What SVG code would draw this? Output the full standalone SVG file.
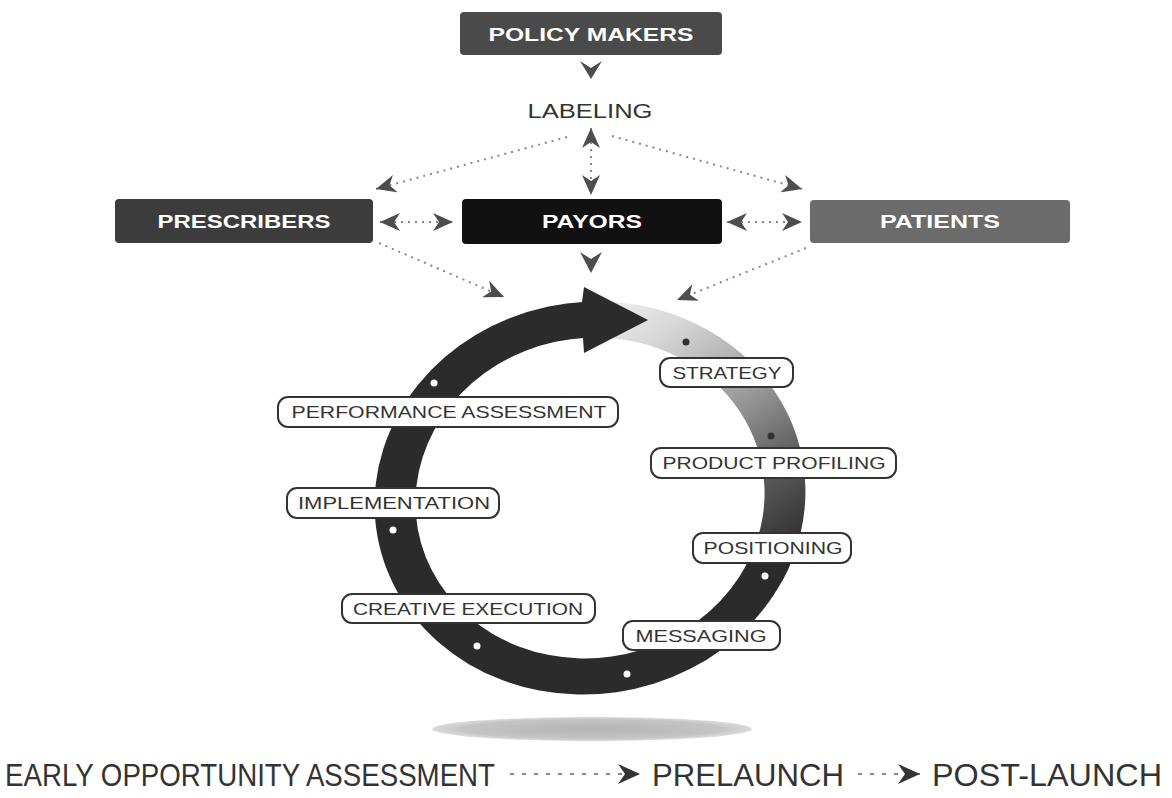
<svg xmlns="http://www.w3.org/2000/svg" width="1172" height="798" viewBox="0 0 1172 798">
  <defs>
    <style>
      .box-text { font-family: "Liberation Sans", Arial, sans-serif; font-weight: bold; font-size: 19px; fill: #ffffff; text-anchor: middle; }
      .lbl-rect { fill: #ffffff; stroke: #333333; stroke-width: 2; }
      .lbl-text { font-family: "Liberation Sans", Arial, sans-serif; font-size: 17px; fill: #333333; text-anchor: middle; }
      .dotline { stroke: #888888; stroke-width: 2; stroke-dasharray: 2 5; fill: none; }
      .dotline-b { stroke: #888888; stroke-width: 2; stroke-dasharray: 4 8; fill: none; }
      .chev { fill: #4d4d4d; }
      .bottom-text { font-family: "Liberation Sans", Arial, sans-serif; font-size: 31px; fill: #333333; }
      .ring-dark { fill: #2b2b2b; }
      .dot-w { fill: #ffffff; }
      .dot-d { fill: #333333; }
    </style>
    <marker id="arrow" viewBox="0 0 20 18" refX="20" refY="9" markerWidth="20" markerHeight="18" markerUnits="userSpaceOnUse" orient="auto-start-reverse">
      <path d="M0,0 L20,9 L0,18 L6,9 Z" fill="#4d4d4d"/>
    </marker>
    <marker id="arrowB" viewBox="0 0 22 20" refX="22" refY="10" markerWidth="22" markerHeight="20" markerUnits="userSpaceOnUse" orient="auto">
      <path d="M0,0 L22,10 L0,20 L7,10 Z" fill="#333333"/>
    </marker>
    <linearGradient id="fade" gradientUnits="userSpaceOnUse" x1="40" y1="-190" x2="175" y2="100">
      <stop offset="0" stop-color="#f0f0f0"/>
      <stop offset="0.2" stop-color="#d6d6d6"/>
      <stop offset="0.5" stop-color="#9a9a9a"/>
      <stop offset="0.75" stop-color="#5a5a5a"/>
      <stop offset="1" stop-color="#2b2b2b"/>
    </linearGradient>
    <radialGradient id="shadow" cx="0.5" cy="0.5" r="0.5">
      <stop offset="0" stop-color="#b4b4b4"/>
      <stop offset="0.8" stop-color="#c4c4c4"/>
      <stop offset="1" stop-color="#dcdcdc"/>
    </radialGradient>
  </defs>

  <rect x="0" y="0" width="1172" height="798" fill="#ffffff"/>

  <!-- cycle ring -->
  <g id="cycle">
    <ellipse cx="592" cy="729" rx="160" ry="12" fill="url(#shadow)"/>
    <g transform="translate(590 498) rotate(-10)">
      <path d="M 37.5 -193.02 A 216 196 0 0 1 174.74 115.21 L 141.58 94.05 A 175 160 0 0 0 30.38 -157.57 Z" fill="url(#fade)"/>
      <path class="ring-dark" d="M 187.06 98 A 216 196 0 1 1 30.07 -194.10 L 24.36 -158.45 A 175 160 0 1 0 151.55 80 Z"/>
    </g>
    <polygon class="ring-dark" points="582,302 584,287 648,320 584,353 583,338"/>
    <circle class="dot-w" cx="434" cy="383" r="3.5"/>
    <circle class="dot-w" cx="393" cy="530" r="3.5"/>
    <circle class="dot-w" cx="477" cy="646" r="3.5"/>
    <circle class="dot-w" cx="627" cy="674" r="3.5"/>
    <circle class="dot-w" cx="765" cy="576" r="3.5"/>
    <circle class="dot-d" cx="686" cy="342" r="3.5"/>
    <circle class="dot-d" cx="771" cy="436" r="3.5"/>
  </g>

  <!-- connectors -->
  <g id="connectors">
    <polygon class="chev" points="580,61 591,68 602,61 591,79"/>
    <line class="dotline" x1="591" y1="128" x2="591" y2="195" marker-start="url(#arrow)" marker-end="url(#arrow)"/>
    <line class="dotline" x1="567" y1="137" x2="376" y2="189" marker-end="url(#arrow)"/>
    <line class="dotline" x1="612" y1="136" x2="802" y2="189" marker-end="url(#arrow)"/>
    <line class="dotline" x1="380" y1="222" x2="453" y2="222" marker-start="url(#arrow)" marker-end="url(#arrow)"/>
    <line class="dotline" x1="727" y1="222" x2="802" y2="222" marker-start="url(#arrow)" marker-end="url(#arrow)"/>
    <polygon class="chev" points="580,252 591,259 602,252 591,273"/>
    <line class="dotline" x1="379" y1="243" x2="504" y2="297" marker-end="url(#arrow)"/>
    <line class="dotline" x1="806" y1="248" x2="677" y2="300" marker-end="url(#arrow)"/>
  </g>

  <!-- top nodes -->
  <g id="policy-makers">
    <rect x="460" y="12" width="262" height="43" rx="4" fill="#4a4a4a"/>
    <text class="box-text" x="591" y="41" textLength="205" lengthAdjust="spacingAndGlyphs">POLICY MAKERS</text>
  </g>
  <g id="labeling">
    <text x="590" y="118" font-family="Liberation Sans, Arial, sans-serif" font-size="20" fill="#333333" text-anchor="middle" textLength="125" lengthAdjust="spacingAndGlyphs">LABELING</text>
  </g>
  <g id="prescribers">
    <rect x="115" y="199" width="258" height="44" rx="4" fill="#3c3c3c"/>
    <text class="box-text" x="244" y="228" textLength="173" lengthAdjust="spacingAndGlyphs">PRESCRIBERS</text>
  </g>
  <g id="payors">
    <rect x="462" y="199" width="260" height="45" rx="4" fill="#111111"/>
    <text class="box-text" x="592" y="228" textLength="100" lengthAdjust="spacingAndGlyphs">PAYORS</text>
  </g>
  <g id="patients">
    <rect x="810" y="200" width="260" height="43" rx="4" fill="#6b6b6b"/>
    <text class="box-text" x="940" y="228" textLength="120" lengthAdjust="spacingAndGlyphs">PATIENTS</text>
  </g>

  <!-- cycle stage labels -->
  <g id="strategy">
    <rect class="lbl-rect" x="660" y="358" width="133" height="29" rx="10"/>
    <text class="lbl-text" x="727" y="379" textLength="109" lengthAdjust="spacingAndGlyphs">STRATEGY</text>
  </g>
  <g id="product-profiling">
    <rect class="lbl-rect" x="651" y="448" width="245" height="30" rx="10"/>
    <text class="lbl-text" x="774" y="469" textLength="223" lengthAdjust="spacingAndGlyphs">PRODUCT PROFILING</text>
  </g>
  <g id="positioning">
    <rect class="lbl-rect" x="693" y="533" width="158" height="30" rx="10"/>
    <text class="lbl-text" x="773" y="554" textLength="139" lengthAdjust="spacingAndGlyphs">POSITIONING</text>
  </g>
  <g id="messaging">
    <rect class="lbl-rect" x="623" y="621" width="157" height="29" rx="10"/>
    <text class="lbl-text" x="701" y="642" textLength="131" lengthAdjust="spacingAndGlyphs">MESSAGING</text>
  </g>
  <g id="creative-execution">
    <rect class="lbl-rect" x="342" y="594" width="253" height="29" rx="10"/>
    <text class="lbl-text" x="468" y="615" textLength="230" lengthAdjust="spacingAndGlyphs">CREATIVE EXECUTION</text>
  </g>
  <g id="implementation">
    <rect class="lbl-rect" x="287" y="488" width="212" height="30" rx="10"/>
    <text class="lbl-text" x="394" y="509" textLength="192" lengthAdjust="spacingAndGlyphs">IMPLEMENTATION</text>
  </g>
  <g id="performance-assessment">
    <rect class="lbl-rect" x="278" y="397" width="340" height="30" rx="10"/>
    <text class="lbl-text" x="449" y="418" textLength="315" lengthAdjust="spacingAndGlyphs">PERFORMANCE ASSESSMENT</text>
  </g>

  <!-- bottom timeline -->
  <g id="timeline">
    <text class="bottom-text" x="5" y="786" textLength="490" lengthAdjust="spacingAndGlyphs">EARLY OPPORTUNITY ASSESSMENT</text>
    <line class="dotline-b" x1="510" y1="774" x2="640" y2="774" marker-end="url(#arrowB)"/>
    <text class="bottom-text" x="652" y="786" textLength="192" lengthAdjust="spacingAndGlyphs">PRELAUNCH</text>
    <line class="dotline-b" x1="858" y1="774" x2="920" y2="774" marker-end="url(#arrowB)"/>
    <text class="bottom-text" x="932" y="786" textLength="230" lengthAdjust="spacingAndGlyphs">POST-LAUNCH</text>
  </g>
</svg>
